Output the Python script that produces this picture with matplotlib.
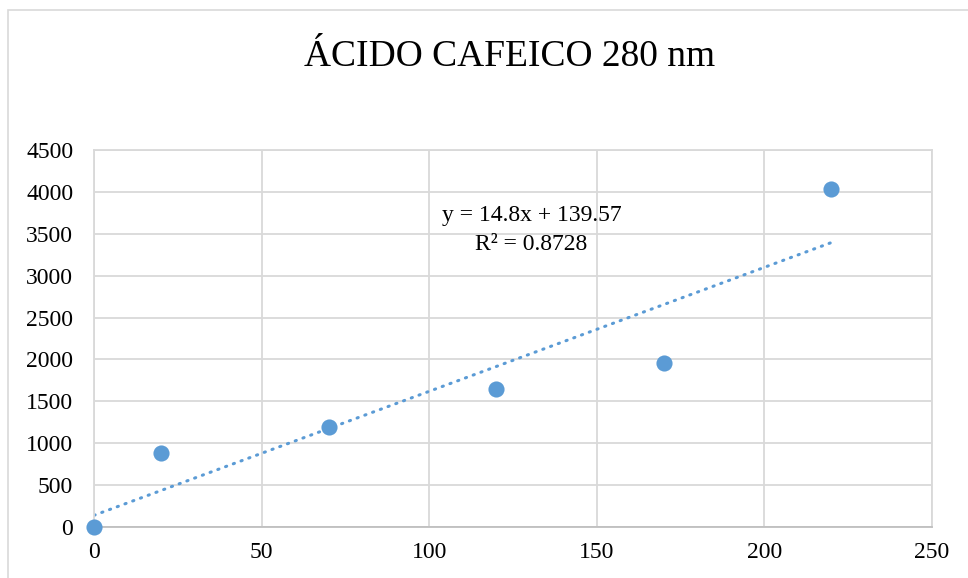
import numpy as np
import matplotlib.pyplot as plt
from matplotlib.patches import Rectangle

# concentracion vs area, acido cafeico a 280 nm
concentracion = [0, 20, 70, 120, 170, 220]
area = [0, 885, 1195, 1650, 1960, 4035]

titulo = "ÁCIDO CAFEICO 280 nm"
pendiente = 14.8
intercepto = 139.57
r2 = 0.8728

azul = "#5b9bd5"
gris = "#d9d9d9"

plt.rcParams["font.family"] = ["Liberation Serif", "DejaVu Serif"]

fig = plt.figure(figsize=(9.68, 5.78), dpi=100)
ax = fig.add_axes([94 / 968, 51 / 578, 838 / 968, 377 / 578])

# marco del area del grafico
fig.patches.append(Rectangle((8 / 968, -0.1), 1.2, 1 - 10 / 578 + 0.1,
                             transform=fig.transFigure, fill=False,
                             edgecolor=gris, linewidth=1.2))

# linea de tendencia
xt = np.array([concentracion[0], concentracion[-1]])
ax.plot(xt, pendiente * xt + intercepto, color=azul, linewidth=2.2,
        linestyle=(0, (0.4, 2.3)), dash_capstyle="round", zorder=2)

ax.scatter(concentracion, area, s=135, color=azul, zorder=3,
           clip_on=False, linewidths=0)

ax.set_xlim(0, 250)
ax.set_ylim(0, 4500)
ax.set_xticks(range(0, 251, 50))
ax.set_yticks(range(0, 4501, 500))
ax.grid(True, color=gris, linewidth=1.3)
ax.set_axisbelow(True)
for lado in ["left", "right", "top"]:
    ax.spines[lado].set_color(gris)
    ax.spines[lado].set_linewidth(1.3)
ax.spines["bottom"].set_color("#bfbfbf")
ax.spines["bottom"].set_linewidth(1.3)
ax.tick_params(axis="both", length=0, labelsize=17, colors="black")
ax.tick_params(axis="y", pad=15)
ax.tick_params(axis="x", pad=11)

fig.text(510 / 968, 1 - 57 / 578, titulo, ha="center", va="center",
         fontsize=27)

ax.text(0.5 * (441 + 622) / 968, 1 - 216 / 578,
        f"y = {pendiente}x + {intercepto}", transform=fig.transFigure,
        ha="center", va="center", fontsize=17)
ax.text(531 / 968, 1 - 245 / 578, f"R² = {r2}",
        transform=fig.transFigure, ha="center", va="center", fontsize=17)

fig.savefig("out.png", dpi=100)
